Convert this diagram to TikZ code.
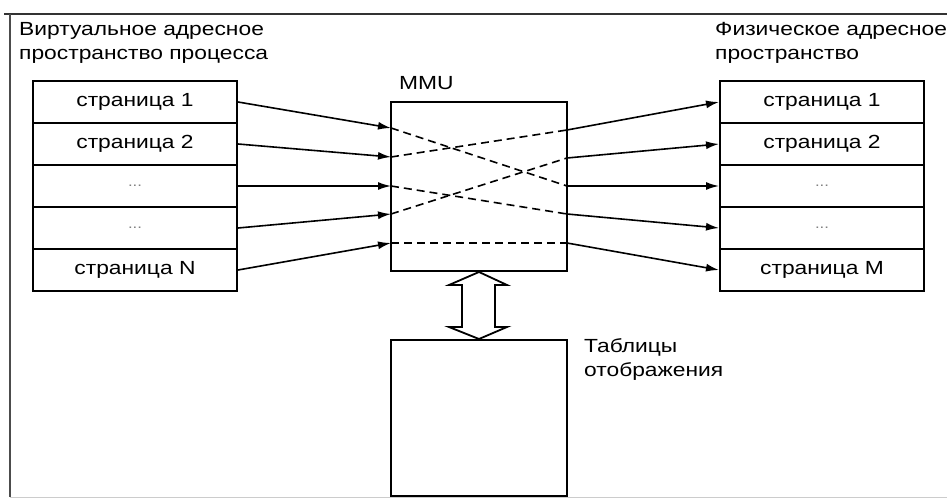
\documentclass[tikz,border=0pt]{standalone}
\usepackage{fontspec}
\setmainfont{Liberation Sans}[FakeStretch=1.2]
\usepackage{tikz}
\usetikzlibrary{arrows.meta}

\tikzset{
	every node/.style={font=\fontsize{19}{24}\selectfont},
	page/.style={draw, line width=2pt, minimum width=204pt, minimum height=42pt, inner sep=0pt},
	block/.style={draw, line width=2pt, inner sep=0pt},
	arr/.style={line width=1.6pt, -{Latex[length=13pt,width=8pt]}},
	mapline/.style={line width=1.6pt, dash pattern=on 8pt off 5pt},
	dotstxt/.style={text=gray, font=\fontsize{14}{16}\selectfont}
}

\begin{document}
\begin{tikzpicture}[x=1pt, y=-1pt]
			\useasboundingbox (0,0) rectangle (947,500);
			
			% Frame of the scan
			\draw[line width=2.5pt, black!80] (4,14) -- (947,14);
			\draw[line width=1.8pt, black!70] (10,14) -- (10,497);
			\draw[line width=1pt, gray!40] (10,497) -- (947,497);
			
			% Headings
			\node[anchor=north west, align=left, inner sep=0pt] (vtitle) at (19,22) {Виртуальное адресное\\пространство процесса};
			\node[anchor=north west, align=left, inner sep=0pt] (ptitle) at (715,22) {Физическое адресное\\пространство};
			
			% Virtual pages
			\node[page] (v1) at (135,102) {страница 1};
			\node[page] (v2) at (135,144) {страница 2};
			\node[page, dotstxt] (v3) at (135,186) {...};
			\node[page, dotstxt] (v4) at (135,228) {...};
			\node[page] (v5) at (135,270) {страница N};
			
			% Physical pages
			\node[page] (p1) at (822,102) {страница 1};
			\node[page] (p2) at (822,144) {страница 2};
			\node[page, dotstxt] (p3) at (822,186) {...};
			\node[page, dotstxt] (p4) at (822,228) {...};
			\node[page] (p5) at (822,270) {страница M};
			
			% MMU
			\node[block, minimum width=176pt, minimum height=169pt] (mmu) at (479,186.5) {};
			\node[anchor=south west, inner sep=0pt] (mmulabel) at (399,90) {MMU};
			
			% Inputs and outputs of the MMU
			\coordinate (in1) at (391,128);
			\coordinate (in2) at (391,157);
			\coordinate (in3) at (391,186);
			\coordinate (in4) at (391,214);
			\coordinate (in5) at (391,243);
			\coordinate (out1) at (567,130);
			\coordinate (out2) at (567,158);
			\coordinate (out3) at (567,186);
			\coordinate (out4) at (567,214);
			\coordinate (out5) at (567,243);
			
			% Arrows into the MMU
			\draw[arr] (v1.east) -- (in1);
			\draw[arr] (v2.east) -- (in2);
			\draw[arr] (v3.east) -- (in3);
			\draw[arr] (v4.east) -- (in4);
			\draw[arr] (v5.east) -- (in5);
			
			% Mapping inside the MMU
			\draw[mapline] (in1) -- (out3);
			\draw[mapline] (in2) -- (out1);
			\draw[mapline] (in3) -- (out4);
			\draw[mapline] (in4) -- (out2);
			\draw[mapline] (in5) -- (out5);
			
			% Arrows out of the MMU
			\draw[arr] (out1) -- (p1.west);
			\draw[arr] (out2) -- (p2.west);
			\draw[arr] (out3) -- (p3.west);
			\draw[arr] (out4) -- (p4.west);
			\draw[arr] (out5) -- (p5.west);
			
			% Mapping tables
			\node[block, minimum width=176pt, minimum height=156pt] (tables) at (479,418) {};
			\node[anchor=north west, align=left, inner sep=0pt] (tlabel) at (584,338) {Таблицы\\отображения};
			
			% Hollow double arrow
			\draw[line width=1.8pt, fill=white] (mmu.south) -- (507,285) -- (495,285) -- (495,327) -- (507,327)
				-- (tables.north) -- (449,327) -- (462,327) -- (462,285) -- (449,285) -- cycle;
			
		\end{tikzpicture}
\end{document}
